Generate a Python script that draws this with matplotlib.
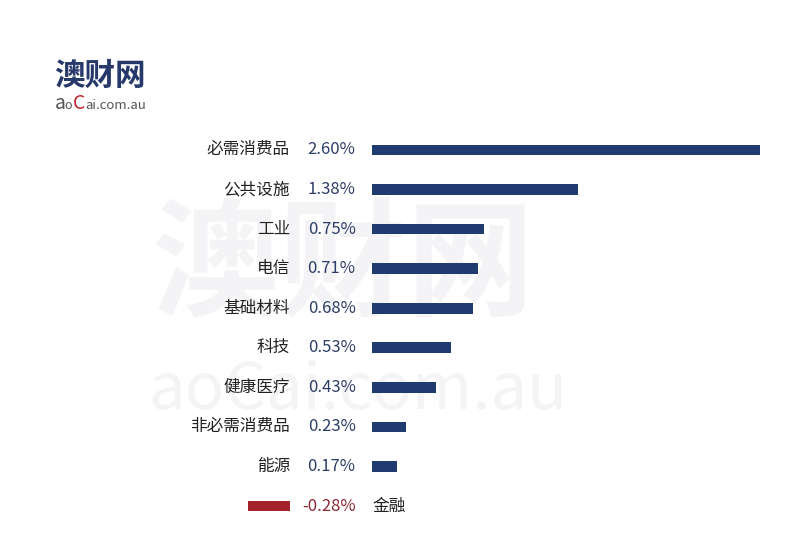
import matplotlib.pyplot as plt

plt.rcParams['font.family'] = ['Noto Sans CJK SC', 'DejaVu Sans']

sectors = ['必需消费品', '公共设施', '工业', '电信', '基础材料', '科技',
           '健康医疗', '非必需消费品', '能源', '金融']
changes = [2.60, 1.38, 0.75, 0.71, 0.68, 0.53, 0.43, 0.23, 0.17, -0.28]

pos_color = '#1f3b70'
neg_color = '#a3222b'
gap = 0.55  # room for the labels, in data units

fig = plt.figure(figsize=(8, 5.5), dpi=100)
ax = fig.add_axes([0, 0, 1, 1])
ax.set_xlim(-2.493, 2.868)
ax.set_ylim(10.11, -3.79)
ax.axis('off')

# watermark
ax.text(-1.48, 3.0, '澳财网', fontsize=92, fontweight='bold', color='#f4f4f6',
        ha='left', va='center', zorder=0)
ax.text(-1.50, 6.55, 'aoCai.com.au', fontsize=47, color='#f4f4f6',
        ha='left', va='baseline', zorder=0)

for i, (name, v) in enumerate(zip(sectors, changes)):
    if v >= 0:
        ax.barh(i, v, height=0.27, color=pos_color, zorder=2)
        ax.text(-gap, i, name, ha='right', va='center', fontsize=12, color='#222222')
        ax.text(-0.11, i, f'{v:.2f}%', ha='right', va='center', fontsize=12, color='#2c3e66')
    else:
        ax.barh(i, v, left=-gap, height=0.27, color=neg_color, zorder=2)
        ax.text(-0.11, i, f'{v:.2f}%', ha='right', va='center', fontsize=12, color='#8c2a36')
        ax.text(0.0, i, name, ha='left', va='center', fontsize=12, color='#222222')

# logo
fig.text(0.068, 0.862, '澳财网', fontsize=22, fontweight='bold', color='#27396b',
         ha='left', va='center')
fig.text(0.068, 0.812, 'a', fontsize=14, color='#555555', ha='left', va='center')
fig.text(0.081, 0.809, 'o', fontsize=9, color='#555555', ha='left', va='center')
fig.text(0.091, 0.812, 'C', fontsize=14, color='#c0282d', ha='left', va='center')
fig.text(0.107, 0.809, 'ai.com.au', fontsize=9.5, color='#555555', ha='left', va='center')

fig.savefig('out.png', dpi=100, facecolor='white')
